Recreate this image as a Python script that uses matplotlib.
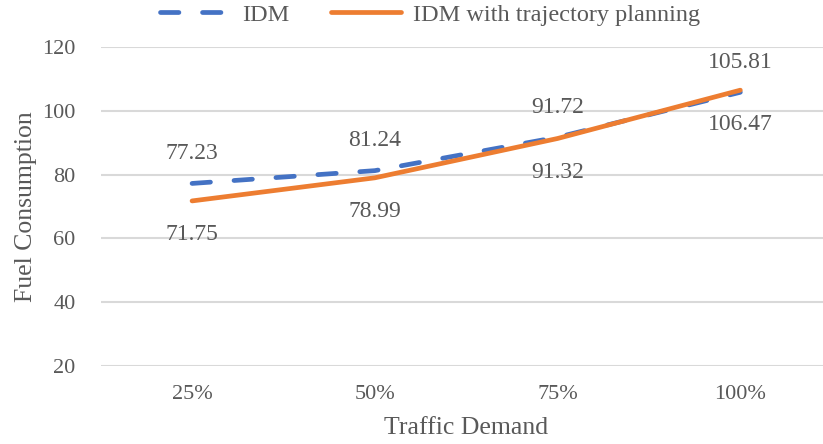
import numpy as np
import matplotlib
matplotlib.use("Agg")
import matplotlib.pyplot as plt

# data
demand = ["25%", "50%", "75%", "100%"]
idm = [77.23, 81.24, 91.72, 105.81]
idm_traj = [71.75, 78.99, 91.32, 106.47]
yticks = [20, 40, 60, 80, 100, 120]

blue = "#4472C4"
orange = "#ED7D31"
grey = "#595959"

plt.rcParams["font.family"] = ["Liberation Serif", "DejaVu Serif"]

fig = plt.figure(figsize=(8.23, 4.44), dpi=100)
W, H = 823, 444
ax = fig.add_axes([100.7 / W, 78 / H, 731 / W, 319 / H])

x = np.arange(len(demand))
l1, = ax.plot(x, idm, color=blue, lw=3.4, dashes=(3.9, 5.0),
              dash_capstyle="round", solid_capstyle="round", label="IDM")
l2, = ax.plot(x, idm_traj, color=orange, lw=3.4, solid_capstyle="round",
              label="IDM with trajectory planning")

for xi, v in zip(x, idm):
    ax.annotate(f"{v:.2f}", (xi, v), xytext=(0, 30), textcoords="offset pixels",
                ha="center", va="center", fontsize=17, color=grey)
for xi, v in zip(x, idm_traj):
    ax.annotate(f"{v:.2f}", (xi, v), xytext=(0, -34), textcoords="offset pixels",
                ha="center", va="center", fontsize=17, color=grey)

ax.set_xlim(-0.5, 3.5)
ax.set_ylim(20, 120)
ax.set_xticks(x)
ax.set_xticklabels(demand)
ax.set_yticks(yticks)
ax.tick_params(axis="both", length=0, labelsize=16, labelcolor=grey)
ax.tick_params(axis="y", pad=18)
ax.tick_params(axis="x", pad=14)
ax.grid(axis="y", color="#d9d9d9", lw=1.5)
ax.set_axisbelow(True)
for s in ax.spines.values():
    s.set_visible(False)

ax.set_xlabel("Traffic Demand", fontsize=18.5, color=grey, labelpad=9)
ax.set_ylabel("Fuel Consumption", fontsize=18.5, color=grey, labelpad=4)

fig.legend(handles=[l1, l2], loc="center", bbox_to_anchor=(430 / W, 1 - 15 / H),
           ncol=2, frameon=False, fontsize=17.5, labelcolor=grey,
           handlelength=2.9, handletextpad=0.5, columnspacing=1.7,
           borderaxespad=0, borderpad=0)

fig.savefig("out.png", dpi=100)
